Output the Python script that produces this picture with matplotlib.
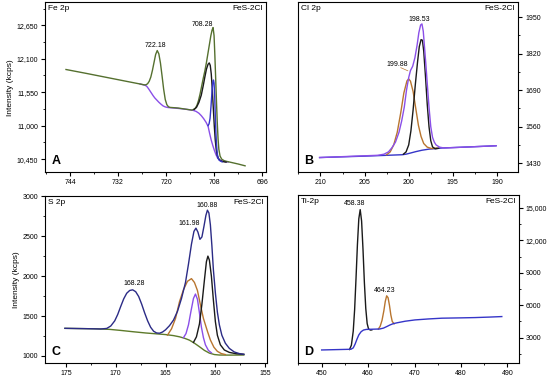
import matplotlib.pyplot as plt
from matplotlib.ticker import AutoMinorLocator, FuncFormatter

plt.rcParams['font.family'] = ['Liberation Sans', 'DejaVu Sans']

# ---- Fe 2p (A) ----
fe_env_x = [745, 740, 735, 730, 726.5, 725.4, 725.0, 724.6, 724.2, 723.8, 723.4, 723.0, 722.6, 722.2, 721.8,
            721.4, 721.0, 720.6, 720.2, 719.8, 719.4, 719, 717, 715, 713.5, 712.75, 712.3, 711.9, 711.5, 711.1,
            710.7, 710.3, 709.9, 709.5, 709.1, 708.8, 708.5, 708.25, 708.0, 707.8, 707.6, 707.4, 707.2, 707.0,
            706.8, 706.5, 706.1, 705.5, 705, 704, 702, 700.25]
fe_env_y = [11923, 11860, 11795, 11730, 11685, 11670, 11672, 11690, 11730, 11800, 11910, 12040, 12170, 12235,
            12180, 12030, 11820, 11600, 11430, 11345, 11310, 11300, 11290, 11270, 11255, 11282, 11330, 11410,
            11520, 11650, 11780, 11900, 12040, 12200, 12360, 12480, 12570, 12612, 12480, 12150, 11780, 11400,
            11050, 10780, 10610, 10500, 10450, 10425, 10415, 10400, 10370, 10340]
fe_blk_x = [713, 712.4, 711.8, 711.2, 710.7, 710.3, 709.9, 709.5, 709.2, 708.95, 708.7, 708.45, 708.2, 707.95,
            707.7, 707.45, 707.2, 706.9, 706.5, 706, 705]
fe_blk_y = [11265, 11300, 11380, 11500, 11660, 11800, 11930, 12010, 12031, 11990, 11850, 11600, 11300, 11000,
            10760, 10600, 10510, 10460, 10430, 10412, 10400]
fe_blu_x = [709.5, 709.25, 709.0, 708.75, 708.5, 708.3, 708.15, 708.0, 707.85, 707.7, 707.55, 707.4, 707.2,
            707.0, 706.7, 706.3, 706]
fe_blu_y = [11000, 11030, 11120, 11330, 11580, 11720, 11750, 11700, 11500, 11180, 10900, 10700, 10540, 10470,
            10430, 10415, 10405]
fe_bg_x = [726.5, 725.6, 725.25, 724.8, 724.4, 724.0, 723.6, 723.2, 722.8, 722.3, 721.8, 721.3, 720.75, 720.2,
           719.5, 718, 716, 714.5, 713.25, 712.5, 711.8, 711.2, 710.6, 710, 709.5, 709.1, 708.7, 708.3, 707.9,
           707.5, 707.1, 706.7, 706.2, 705.5, 704.5]
fe_bg_y = [11685, 11670, 11665, 11645, 11610, 11570, 11530, 11490, 11455, 11420, 11385, 11355, 11325, 11308,
           11298, 11290, 11277, 11265, 11252, 11235, 11205, 11165, 11115, 11055, 10990, 10870, 10760, 10670,
           10590, 10520, 10465, 10440, 10425, 10412, 10402]

# ---- Cl 2p (B) ----
cl_env_x = [210.1, 206, 203.5, 202.8, 202.3, 201.9, 201.5, 201.1, 200.8, 200.5, 200.25, 200.0, 199.8, 199.55,
            199.3, 199.05, 198.85, 198.65, 198.5, 198.35, 198.2, 198.05, 197.9, 197.7, 197.5, 197.3, 197.1,
            196.9, 196.5, 196.0, 193, 190.1]
cl_env_y = [1450, 1455, 1458, 1462, 1470, 1485, 1505, 1540, 1580, 1630, 1690, 1735, 1760, 1775, 1805, 1850,
            1895, 1922, 1926, 1900, 1840, 1780, 1715, 1630, 1560, 1522, 1505, 1495, 1487, 1484, 1488, 1492]
cl_blk_x = [200.6, 200.3, 200.0, 199.75, 199.5, 199.25, 199.0, 198.8, 198.6, 198.45, 198.3, 198.1, 197.9,
            197.7, 197.5, 197.3, 197.0, 196.6]
cl_blk_y = [1462, 1470, 1495, 1545, 1620, 1710, 1790, 1845, 1870, 1868, 1830, 1740, 1640, 1560, 1510, 1488,
            1481, 1483]
cl_org_x = [202.5, 202.1, 201.7, 201.3, 200.9, 200.55, 200.2, 200.0, 199.8, 199.5, 199.2, 198.9, 198.6, 198.3,
            197.9, 197.4, 196.8]
cl_org_y = [1460, 1470, 1495, 1540, 1610, 1680, 1723, 1730, 1722, 1685, 1625, 1565, 1525, 1500, 1487, 1482,
            1484]
cl_bg_x = [210.1, 205, 200.75, 200.3, 199.8, 199.2, 198.5, 197.7, 196.2, 193, 190.1]
cl_bg_y = [1450, 1455, 1460, 1462, 1466, 1471, 1476, 1480, 1484, 1488, 1492]

# ---- S 2p (C) ----
s_env_x = [175.1, 173, 171.5, 170.9, 170.5, 170.1, 169.8, 169.5, 169.2, 168.9, 168.6, 168.3, 168.0, 167.7,
           167.4, 167.1, 166.8, 166.5, 166.2, 165.9, 165.6, 165.3, 165.0, 164.6, 164.2, 163.8, 163.4, 163.0,
           162.7, 162.4, 162.15, 161.95, 161.75, 161.55, 161.35, 161.15, 160.95, 160.8, 160.65, 160.5, 160.35,
           160.2, 160.0, 159.8, 159.6, 159.35, 159.0, 158.6, 158.1, 157.6, 157.15]
s_env_y = [1346, 1342, 1338, 1345, 1375, 1440, 1520, 1620, 1715, 1785, 1820, 1828, 1805, 1745, 1650, 1540, 1440,
           1360, 1310, 1288, 1285, 1300, 1328, 1380, 1450, 1560, 1720, 1920, 2150, 2400, 2560, 2600, 2550, 2460,
           2490, 2620, 2760, 2825, 2790, 2640, 2380, 2080, 1790, 1550, 1390, 1260, 1160, 1095, 1050, 1030, 1021]
s_bg_x = [175.1, 172, 170.6, 169.5, 168.3, 167, 166, 165, 164.2, 163.6, 163.1, 162.6, 162.1, 161.6, 161.1,
          160.6, 160.1, 159.6, 158.5, 157.15]
s_bg_y = [1346, 1340, 1333, 1320, 1304, 1288, 1278, 1268, 1255, 1240, 1222, 1198, 1160, 1116, 1070, 1036, 1018,
          1012, 1011, 1012]
s_org_x = [164.8, 164.4, 164.0, 163.6, 163.2, 162.8, 162.4, 162.1, 161.8, 161.5, 161.2, 160.8, 160.5, 160.15,
           159.8, 159.4, 159.0]
s_org_y = [1262, 1340, 1470, 1680, 1830, 1935, 1968, 1920, 1820, 1640, 1470, 1310, 1200, 1110, 1058, 1030,
           1018]
s_pur_x = [163.2, 162.95, 162.7, 162.45, 162.2, 162.0, 161.8, 161.6, 161.4, 161.2, 161.0, 160.7, 160.4]
s_pur_y = [1230, 1280, 1390, 1560, 1720, 1775, 1710, 1540, 1360, 1230, 1140, 1070, 1040]
s_blk_x = [162.2, 161.9, 161.6, 161.35, 161.1, 160.9, 160.75, 160.6, 160.4, 160.2, 160.0, 159.8, 159.5, 159.1,
           158.6, 157.9, 157.15]
s_blk_y = [1170, 1240, 1400, 1650, 1950, 2180, 2250, 2200, 2000, 1700, 1430, 1260, 1140, 1075, 1045, 1028, 1021]

# ---- Ti 2p (D) ----
ti_bg_x = [450, 456.3, 456.8, 457.2, 457.6, 458.0, 458.5, 459.0, 459.6, 461.0, 462.5, 463.3, 464.0, 464.7,
           465.4, 466.2, 468, 470.1, 473, 475.9, 480, 483, 486, 488.8]
ti_bg_y = [1858, 1923, 2050, 2400, 2850, 3250, 3550, 3700, 3760, 3780, 3800, 3880, 4020, 4170, 4290, 4370,
           4520, 4640, 4730, 4800, 4830, 4856, 4900, 4950]
ti_blk_x = [456.0, 456.4, 456.8, 457.1, 457.4, 457.7, 458.0, 458.3, 458.6, 458.9, 459.2, 459.5, 459.8, 460.1,
            460.5, 460.8]
ti_blk_y = [1900, 2300, 3600, 5600, 8500, 11600, 14000, 14850, 13800, 11200, 8100, 5700, 4300, 3800, 3700, 3715]
ti_org_x = [462.2, 462.6, 463.0, 463.4, 463.7, 464.0, 464.3, 464.6, 464.9, 465.2, 465.6]
ti_org_y = [3790, 4050, 4600, 5500, 6350, 6870, 6700, 6000, 5100, 4500, 4280]

GREEN = '#55702f'
PURPLE = '#8a4fe8'
BLUE = '#3535c8'
NAVY = '#2b2b86'
BROWN = '#b8752f'
BLACK = '#1a1a1a'

fig = plt.figure(figsize=(5.5, 3.8), dpi=100)
axA = fig.add_axes([0.0818, 0.547, 0.402, 0.447])
axB = fig.add_axes([0.541, 0.547, 0.401, 0.447])
axC = fig.add_axes([0.0818, 0.0447, 0.404, 0.439])
axD = fig.add_axes([0.5418, 0.0447, 0.4018, 0.442])

lw = 1.0
axA.plot(fe_bg_x, fe_bg_y, color=PURPLE, lw=lw)
axA.plot(fe_env_x, fe_env_y, color=GREEN, lw=lw)
axA.plot(fe_blk_x, fe_blk_y, color=BLACK, lw=lw)
axA.plot(fe_blu_x, fe_blu_y, color=BLUE, lw=lw)
axA.set_xlim(750.25, 695)
axA.set_ylim(10236, 13028)
axA.set_xticks([744, 732, 720, 708, 696])
axA.set_yticks([10450, 11000, 11550, 12100, 12650])
axA.yaxis.set_major_formatter(FuncFormatter(lambda v, p: f'{int(v):,}'))
axA.text(722.6, 12310, '722.18', fontsize=5, ha='center', va='center')
axA.text(710.8, 12666, '708.28', fontsize=5, ha='center', va='center')
axA.set_ylabel('Intensity (kcps)', fontsize=6, labelpad=2)

axB.plot(cl_bg_x, cl_bg_y, color=BLUE, lw=lw)
axB.plot(cl_org_x, cl_org_y, color=BROWN, lw=lw)
axB.plot(cl_blk_x, cl_blk_y, color=BLACK, lw=lw)
axB.plot(cl_env_x, cl_env_y, color=PURPLE, lw=lw)
axB.set_xlim(212.6, 187.6)
axB.set_ylim(1398, 2003)
axB.set_xticks([210, 205, 200, 195, 190])
axB.set_yticks([1430, 1560, 1690, 1820, 1950])
axB.yaxis.tick_right()
axB.text(201.25, 1783, '199.88', fontsize=5, ha='center', va='center')
axB.plot([200.9, 200.1], [1770, 1759], color=BROWN, lw=0.5)
axB.text(198.8, 1943, '198.53', fontsize=5, ha='center', va='center')

axC.plot(s_bg_x, s_bg_y, color='#5d7a2a', lw=lw)
axC.plot(s_org_x, s_org_y, color=BROWN, lw=lw)
axC.plot(s_pur_x, s_pur_y, color=PURPLE, lw=lw)
axC.plot(s_blk_x, s_blk_y, color=BLACK, lw=lw)
axC.plot(s_env_x, s_env_y, color=NAVY, lw=lw)
axC.set_xlim(177.1, 154.8)
axC.set_ylim(912, 3000)
axC.set_xticks([175, 170, 165, 160, 155])
axC.set_yticks([1000, 1500, 2000, 2500, 3000])
axC.text(168.1, 1908, '168.28', fontsize=5, ha='center', va='center')
axC.text(162.6, 2659, '161.98', fontsize=5, ha='center', va='center')
axC.text(160.8, 2887, '160.88', fontsize=5, ha='center', va='center')
axC.set_ylabel('Intensity (kcps)', fontsize=6, labelpad=2)

axD.plot(ti_blk_x, ti_blk_y, color=BLACK, lw=lw)
axD.plot(ti_org_x, ti_org_y, color=BROWN, lw=lw)
axD.plot(ti_bg_x, ti_bg_y, color=BLUE, lw=lw)
axD.set_xlim(444.9, 492.5)
axD.set_ylim(650, 16200)
axD.set_xticks([450, 460, 470, 480, 490])
axD.set_yticks([3000, 6000, 9000, 12000, 15000])
axD.yaxis.set_major_formatter(FuncFormatter(lambda v, p: f'{int(v):,}' if v >= 10000 else f'{int(v)}'))
axD.yaxis.tick_right()
axD.text(457.2, 15400, '458.38', fontsize=5, ha='center', va='center')
axD.text(463.6, 7330, '464.23', fontsize=5, ha='center', va='center')

for ax, name, letter in [(axA, 'Fe 2p', 'A'), (axB, 'Cl 2p', 'B'), (axC, 'S 2p', 'C'), (axD, 'Ti-2p', 'D')]:
    ax.xaxis.set_minor_locator(AutoMinorLocator(2))
    ax.yaxis.set_minor_locator(AutoMinorLocator(2))
    ax.tick_params(which='major', direction='out', length=3, width=0.8, labelsize=5, pad=2)
    ax.tick_params(which='minor', direction='out', length=1.6, width=0.6)
    for s in ax.spines.values():
        s.set_linewidth(0.8)
    ax.text(0.015, 0.985, name, transform=ax.transAxes, fontsize=6, ha='left', va='top')
    ax.text(0.985, 0.985, 'FeS-2Cl', transform=ax.transAxes, fontsize=6, ha='right', va='top')
    ax.text(0.03, 0.03, letter, transform=ax.transAxes, fontsize=9, fontweight='bold', ha='left', va='bottom')

fig.savefig('out.png', dpi=100)
